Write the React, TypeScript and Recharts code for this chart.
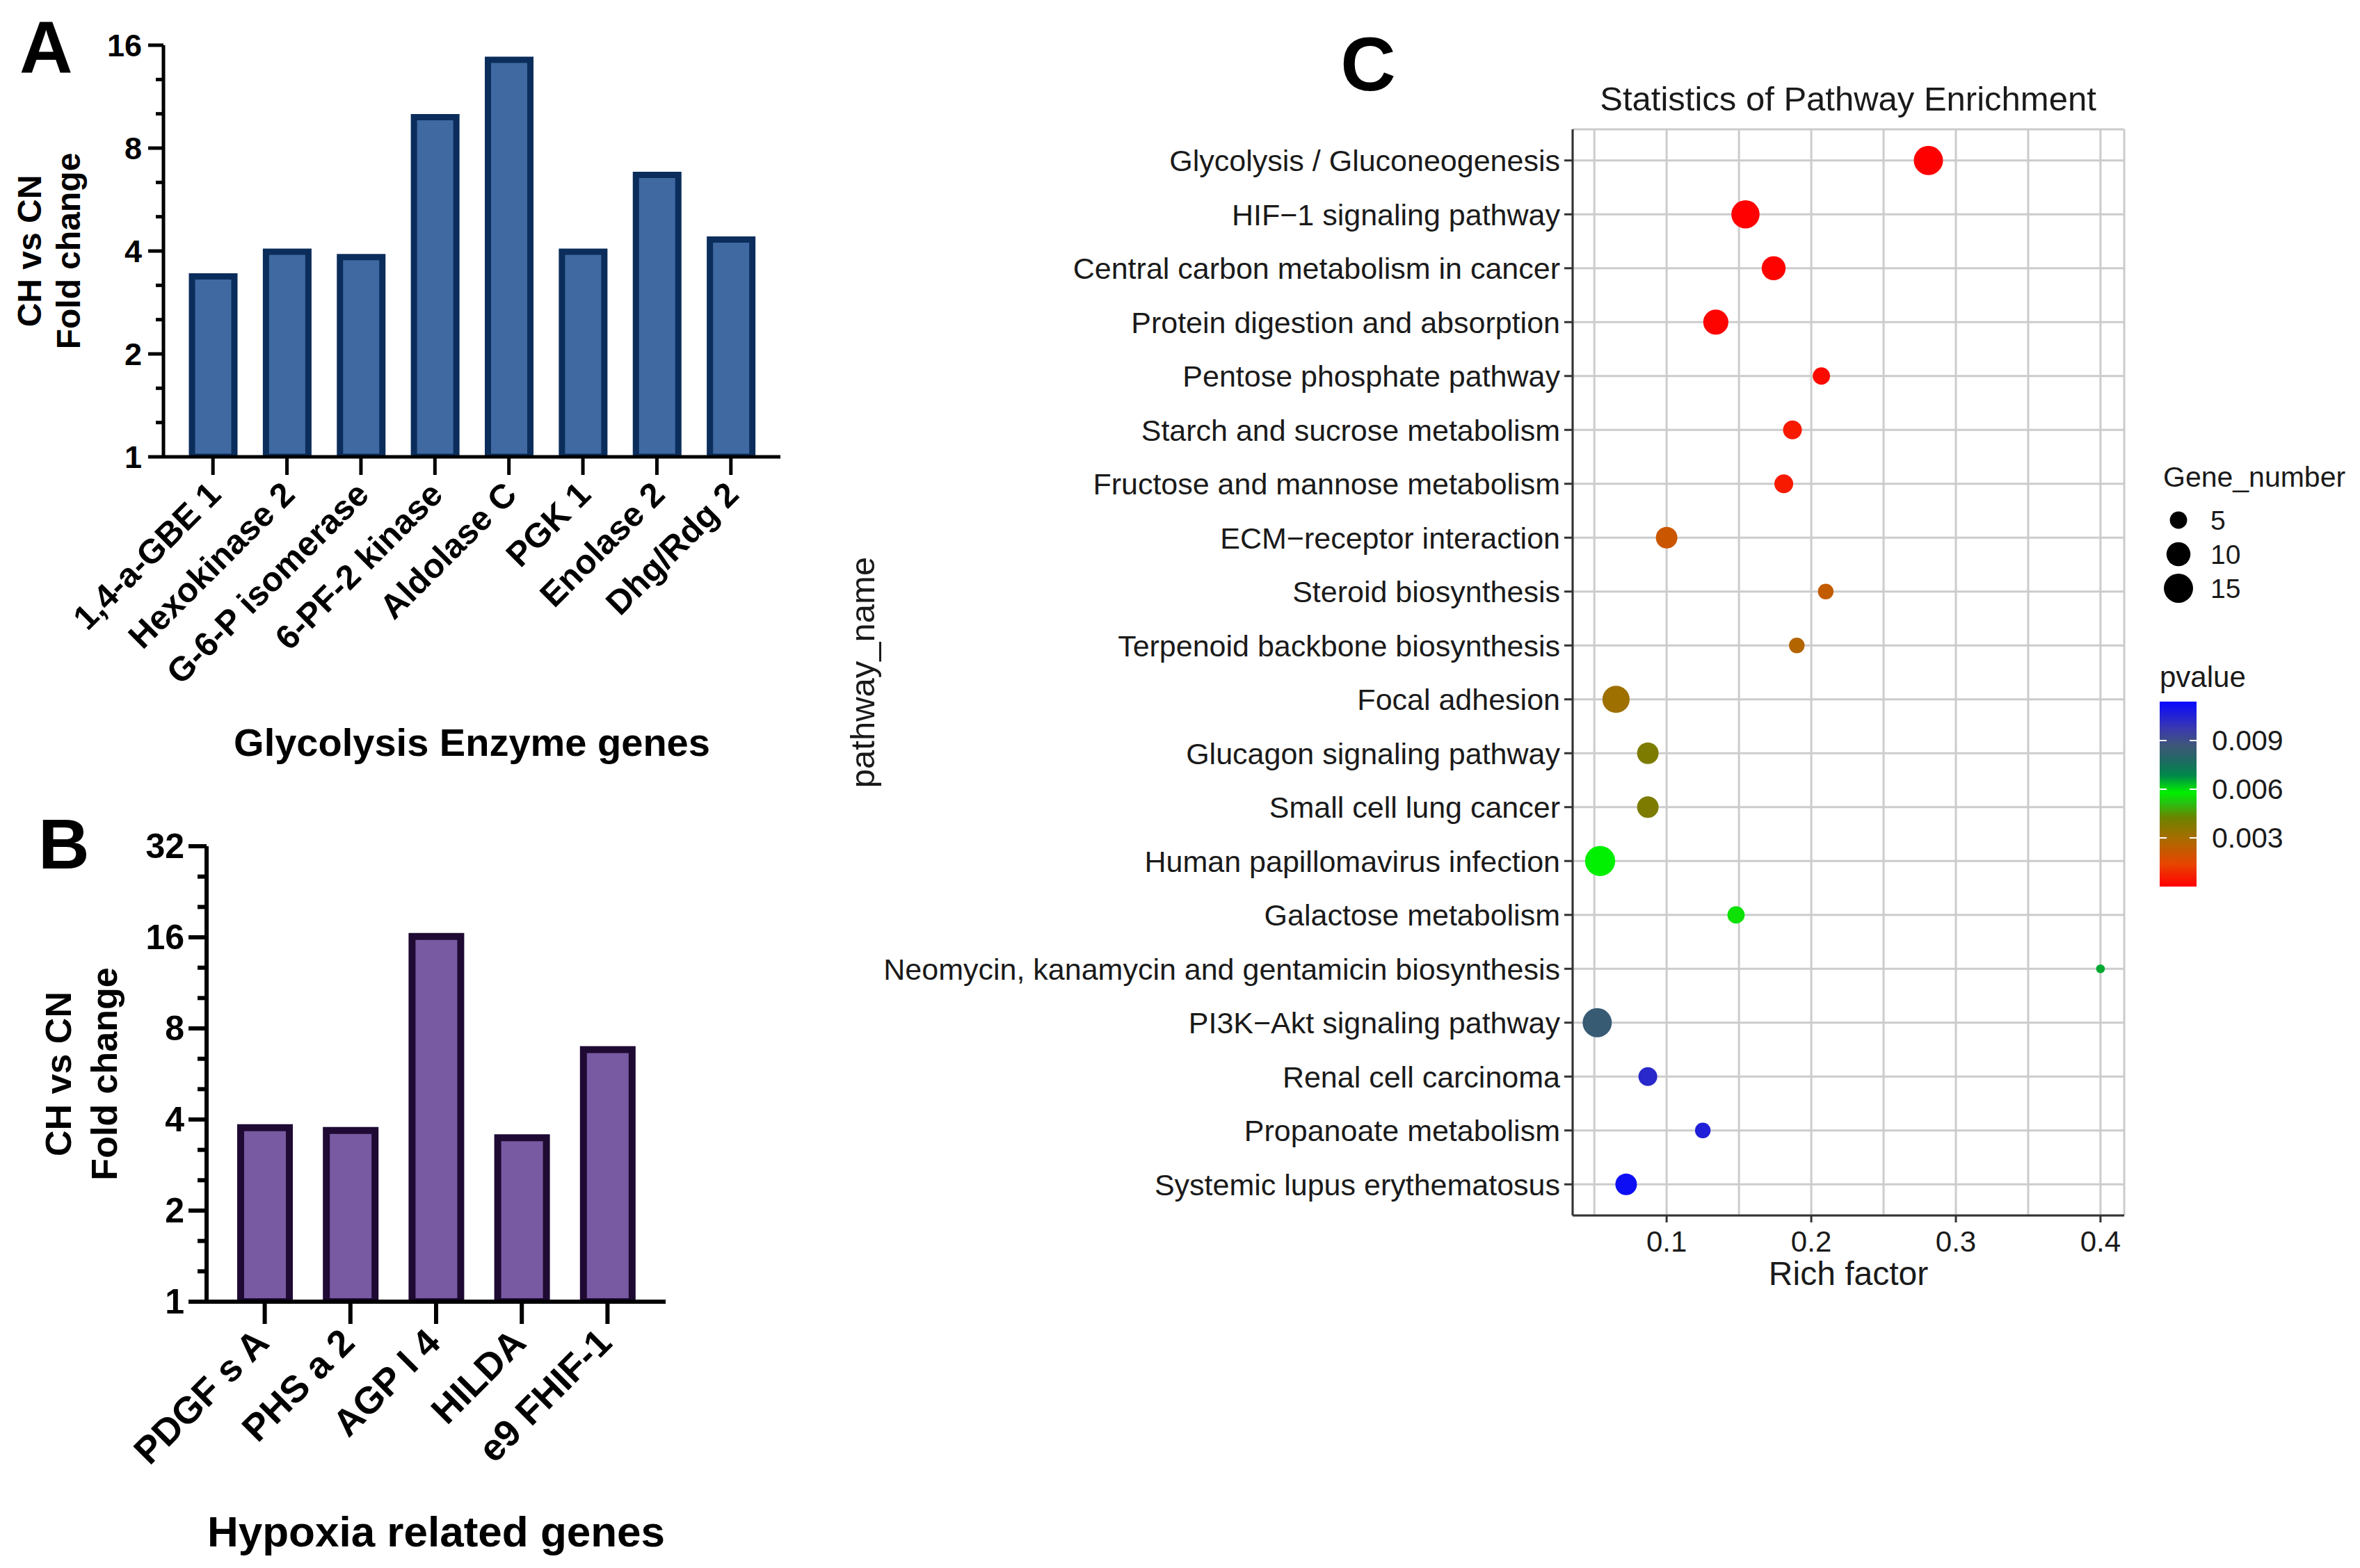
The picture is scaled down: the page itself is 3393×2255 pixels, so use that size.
import React from "react";
import {
  Bar,
  BarChart,
  CartesianGrid,
  Cell,
  Label,
  Scatter,
  ScatterChart,
  XAxis,
  YAxis,
  ZAxis,
} from "recharts";

const FONT = '"Liberation Sans", Arial, Helvetica, sans-serif';

// ---- Panel A: glycolysis enzyme genes (fold change, log2 axis)
const glycolysisGenes = [
  "1,4-a-GBE 1",
  "Hexokinase 2",
  "G-6-P isomerase",
  "6-PF-2 kinase",
  "Aldolase C",
  "PGK 1",
  "Enolase 2",
  "Dhg/Rdg 2",
];
const glycolysisFold = [3.37, 3.98, 3.84, 9.85, 14.5, 3.98, 6.68, 4.32];

// ---- Panel B: hypoxia related genes
const hypoxiaGenes = ["PDGF s A", "PHS a 2", "AGP I 4", "HILDA", "e9 FHIF-1"];
const hypoxiaFold = [3.76, 3.68, 16.1, 3.48, 6.81];

const foldAxisTitle = ["CH vs CN", "Fold change"];

// ---- Panel C: pathway enrichment
const pathways = [
  "Glycolysis / Gluconeogenesis",
  "HIF\u22121 signaling pathway",
  "Central carbon metabolism in cancer",
  "Protein digestion and absorption",
  "Pentose phosphate pathway",
  "Starch and sucrose metabolism",
  "Fructose and mannose metabolism",
  "ECM\u2212receptor interaction",
  "Steroid biosynthesis",
  "Terpenoid backbone biosynthesis",
  "Focal adhesion",
  "Glucagon signaling pathway",
  "Small cell lung cancer",
  "Human papillomavirus infection",
  "Galactose metabolism",
  "Neomycin, kanamycin and gentamicin biosynthesis",
  "PI3K\u2212Akt signaling pathway",
  "Renal cell carcinoma",
  "Propanoate metabolism",
  "Systemic lupus erythematosus",
];
const richFactor = [
  0.281, 0.1545, 0.174, 0.134, 0.207, 0.187, 0.181, 0.1, 0.21, 0.19, 0.065,
  0.087, 0.087, 0.054, 0.148, 0.4, 0.052, 0.087, 0.125, 0.072,
];
const geneNumber = [15, 14, 10, 11, 5, 6, 6, 8, 4, 4, 13, 8, 8, 16, 5, 1, 15, 6, 4, 8];
const pValue = [
  0.00001, 0.00002, 0.00004, 0.00008, 0.0002, 0.0005, 0.0005, 0.0021, 0.0023,
  0.0027, 0.0032, 0.0039, 0.0039, 0.0058, 0.0056, 0.0065, 0.0085, 0.0103,
  0.0106, 0.0112,
];
const richTicks = [0.05, 0.1, 0.15, 0.2, 0.25, 0.3, 0.35, 0.4];
const richLabelled = [0.1, 0.2, 0.3, 0.4];
const sizeLegend = [5, 10, 15];
const pLegendTicks = [0.003, 0.006, 0.009];

const richDomain: [number, number] = [0.035, 0.4164];
const zDomain: [number, number] = [1, 16];
const zRange: [number, number] = [125, 1475];
const pDomain: [number, number] = [0, 0.0114];
const colorStops: [number, string][] = [
  [0, "#FF0000"],
  [0.12, "#E84400"],
  [0.26, "#A86C00"],
  [0.37, "#6E8200"],
  [0.45, "#28C010"],
  [0.51, "#00F000"],
  [0.6, "#00884A"],
  [0.68, "#1E6A62"],
  [0.76, "#3E5878"],
  [0.85, "#3C3AAC"],
  [1, "#0808FF"],
];

const hexToRgb = (h: string) => [1, 3, 5].map((i) => parseInt(h.slice(i, i + 2), 16));

function pColor(p: number) {
  const t = Math.min(1, Math.max(0, (p - pDomain[0]) / (pDomain[1] - pDomain[0])));
  for (let i = 1; i < colorStops.length; i++) {
    const [t0, c0] = colorStops[i - 1];
    const [t1, c1] = colorStops[i];
    if (t <= t1) {
      const f = (t - t0) / (t1 - t0);
      const a = hexToRgb(c0);
      const b = hexToRgb(c1);
      return `rgb(${a.map((v, k) => Math.round(v + (b[k] - v) * f)).join(",")})`;
    }
  }
  return colorStops[colorStops.length - 1][1];
}

const zRadius = (n: number) =>
  Math.sqrt(
    (zRange[0] + ((n - zDomain[0]) / (zDomain[1] - zDomain[0])) * (zRange[1] - zRange[0])) /
      Math.PI
  );

// major ticks at powers of two, two minor ticks in between
const logTicks = (max: number) => {
  const out: number[] = [];
  const top = Math.round(Math.log2(max));
  for (let k = 0; k <= top; k++) {
    out.push(2 ** k);
    if (k < top) out.push(2 ** (k + 1 / 3), 2 ** (k + 2 / 3));
  }
  return out;
};

const LogTick = ({ x, y, payload, s }: any) => {
  const lg = Math.log2(payload.value);
  const major = Math.abs(lg - Math.round(lg)) < 1e-6;
  const len = major ? s.majorLen : s.minorLen;
  return (
    <g>
      <line x1={x - len} x2={x} y1={y} y2={y} stroke="#000" strokeWidth={s.axisW} />
      {major && (
        <text
          x={x - len - s.gap}
          y={y}
          textAnchor="end"
          dominantBaseline="central"
          fontSize={s.yFont}
          fontWeight={700}
          fontFamily={FONT}
        >
          {Math.round(payload.value)}
        </text>
      )}
    </g>
  );
};

const GeneTick = ({ x, y, payload, s }: any) => {
  const ax = x + s.labelDx;
  const ay = y + s.labelDy;
  return (
    <g>
      <line x1={x} x2={x} y1={y} y2={y + s.xLen} stroke="#000" strokeWidth={s.axisW} />
      <text
        x={ax}
        y={ay}
        textAnchor="end"
        transform={`rotate(-45, ${ax}, ${ay})`}
        fontSize={s.xFont}
        fontWeight={700}
        fontFamily={FONT}
      >
        {payload.value}
      </text>
    </g>
  );
};

const RichTick = ({ x, y, payload }: any) => {
  if (!richLabelled.some((v) => Math.abs(v - payload.value) < 1e-9)) return <g />;
  return (
    <g>
      <line x1={x} x2={x} y1={y} y2={y + 10} stroke="#333" strokeWidth={3} />
      <text
        x={x}
        y={y + 22}
        dy="0.72em"
        textAnchor="middle"
        fontSize={42}
        fill="#1a1a1a"
        fontFamily={FONT}
      >
        {payload.value}
      </text>
    </g>
  );
};

function FoldChart({ names, values, maxFold, width, height, margin, yWidth, xHeight, pad, title, s }: any) {
  const data = names.map((name: string, i: number) => ({ name, fold: values[i] }));
  return (
    <BarChart width={width} height={height} data={data} margin={margin}>
      <XAxis
        dataKey="name"
        type="category"
        interval={0}
        height={xHeight}
        padding={{ left: pad, right: pad }}
        tickSize={0}
        tickMargin={0}
        tickLine={false}
        axisLine={{ stroke: "#000", strokeWidth: s.axisW }}
        tick={(p: any) => <GeneTick {...p} s={s} />}
      >
        <Label
          content={({ viewBox }: any) => (
            <text
              x={viewBox.x + viewBox.width / 2}
              y={viewBox.y + s.titleDy}
              textAnchor="middle"
              fontSize={s.titleFont}
              fontWeight={700}
              fontFamily={FONT}
            >
              {title}
            </text>
          )}
        />
      </XAxis>
      <YAxis
        type="number"
        scale="log"
        domain={[1, maxFold]}
        allowDataOverflow
        ticks={logTicks(maxFold)}
        interval={0}
        width={yWidth}
        tickSize={0}
        tickMargin={0}
        tickLine={false}
        axisLine={{ stroke: "#000", strokeWidth: s.axisW }}
        tick={(p: any) => <LogTick {...p} s={s} />}
      >
        <Label
          content={({ viewBox }: any) => {
            const cy = viewBox.y + viewBox.height / 2;
            return (
              <g fontFamily={FONT} fontWeight={700} fontSize={s.yTitleFont}>
                {foldAxisTitle.map((t, i) => (
                  <text
                    key={t}
                    x={s.yTitleX[i]}
                    y={cy}
                    textAnchor="middle"
                    transform={`rotate(-90, ${s.yTitleX[i]}, ${cy})`}
                  >
                    {t}
                  </text>
                ))}
              </g>
            );
          }}
        />
      </YAxis>
      <Bar
        dataKey="fold"
        fill={s.fill}
        stroke={s.stroke}
        strokeWidth={s.barStroke}
        barSize={s.barSize}
        isAnimationActive={false}
      />
    </BarChart>
  );
}

const styleA = {
  fill: "#3F69A0",
  stroke: "#0B2D5B",
  barStroke: 9,
  barSize: 61,
  axisW: 5,
  majorLen: 22,
  minorLen: 11,
  gap: 9,
  yFont: 45,
  xFont: 49,
  xLen: 26,
  labelDx: 14,
  labelDy: 57,
  titleFont: 56,
  titleDy: 430,
  yTitleFont: 48,
  yTitleX: [59, 115],
};

const styleB = {
  fill: "#785AA2",
  stroke: "#1E0A32",
  barStroke: 10,
  barSize: 70,
  axisW: 6,
  majorLen: 26,
  minorLen: 13,
  gap: 6,
  yFont: 50,
  xFont: 54,
  xLen: 32,
  labelDx: 9,
  labelDy: 62,
  titleFont: 62,
  titleDy: 352,
  yTitleFont: 52,
  yTitleX: [102, 168],
};

function EnrichmentChart() {
  const data = pathways.map((name, i) => ({
    name,
    rich: richFactor[i],
    genes: geneNumber[i],
    p: pValue[i],
  }));
  return (
    <ScatterChart width={2000} height={1900} margin={{ top: 186, right: 96, left: 0, bottom: 0 }}>
      <CartesianGrid stroke="#cccccc" strokeWidth={3} />
      <XAxis
        type="number"
        dataKey="rich"
        domain={richDomain}
        allowDataOverflow
        ticks={richTicks}
        interval={0}
        height={152}
        tickSize={0}
        tickMargin={0}
        tickLine={false}
        axisLine={{ stroke: "#333", strokeWidth: 3 }}
        tick={(p: any) => <RichTick {...p} />}
      >
        <Label
          content={({ viewBox }: any) => (
            <text
              x={viewBox.x + viewBox.width / 2}
              y={viewBox.y + 100}
              textAnchor="middle"
              fontSize={48}
              fill="#1a1a1a"
              fontFamily={FONT}
            >
              Rich factor
            </text>
          )}
        />
      </XAxis>
      <XAxis
        xAxisId="top"
        orientation="top"
        type="number"
        domain={richDomain}
        allowDataOverflow
        height={0}
        tick={false}
        tickLine={false}
        axisLine={{ stroke: "#333", strokeWidth: 3 }}
      />
      <YAxis
        type="category"
        dataKey="name"
        reversed
        interval={0}
        width={1111}
        padding={{ top: 6, bottom: 6 }}
        tickSize={12}
        tickMargin={6}
        tickLine={{ stroke: "#333", strokeWidth: 3 }}
        axisLine={{ stroke: "#333", strokeWidth: 3 }}
        tick={{ fontSize: 43, fill: "#1a1a1a", fontFamily: FONT }}
      >
        <Label
          content={({ viewBox }: any) => {
            const cy = viewBox.y + viewBox.height / 2;
            return (
              <text
                x={107}
                y={cy}
                textAnchor="middle"
                transform={`rotate(-90, 107, ${cy})`}
                fontSize={49}
                fill="#1a1a1a"
                fontFamily={FONT}
              >
                pathway_name
              </text>
            );
          }}
        />
      </YAxis>
      <YAxis
        yAxisId="right"
        orientation="right"
        type="number"
        domain={[0, 1]}
        width={0}
        tick={false}
        tickLine={false}
        axisLine={{ stroke: "#333", strokeWidth: 3 }}
      />
      <ZAxis type="number" dataKey="genes" domain={zDomain} range={zRange} />
      <Scatter data={data} isAnimationActive={false}>
        {data.map((d) => (
          <Cell key={d.name} fill={pColor(d.p)} />
        ))}
      </Scatter>
    </ScatterChart>
  );
}

function Overlay() {
  const barX = 3105;
  const barW = 53;
  const barTop = 1009;
  const barBottom = 1275;
  const pY = (p: number) =>
    barBottom - ((p - pDomain[0]) / (pDomain[1] - pDomain[0])) * (barBottom - barTop);
  return (
    <svg
      width={3393}
      height={2255}
      style={{ position: "absolute", left: 0, top: 0, pointerEvents: "none" }}
      fontFamily={FONT}
    >
      <defs>
        <linearGradient id="pgrad" x1="0" y1="1" x2="0" y2="0">
          {colorStops.map(([t, c]) => (
            <stop key={t} offset={t} stopColor={c} />
          ))}
        </linearGradient>
      </defs>
      <text x={28} y={105} fontSize={106} fontWeight={700}>A</text>
      <text x={55} y={1249} fontSize={102} fontWeight={700}>B</text>
      <text x={1967} y={130} fontSize={110} fontWeight={700} textAnchor="middle">C</text>
      <text x={2657} y={159} fontSize={49} textAnchor="middle" fill="#1a1a1a">
        Statistics of Pathway Enrichment
      </text>

      <text x={3110} y={700} fontSize={41} fill="#1a1a1a">Gene_number</text>
      {sizeLegend.map((n, i) => (
        <g key={n}>
          <circle cx={3132} cy={748 + i * 49} r={zRadius(n)} fill="#000" />
          <text x={3178} y={748 + i * 49} dominantBaseline="central" fontSize={39} fill="#1a1a1a">
            {n}
          </text>
        </g>
      ))}

      <text x={3105} y={988} fontSize={42} fill="#1a1a1a">pvalue</text>
      <rect x={barX} y={barTop} width={barW} height={barBottom - barTop} fill="url(#pgrad)" />
      {pLegendTicks.map((p) => (
        <g key={p}>
          <line x1={barX} x2={barX + 10} y1={pY(p)} y2={pY(p)} stroke="#fff" strokeWidth={2} />
          <line x1={barX + barW - 10} x2={barX + barW} y1={pY(p)} y2={pY(p)} stroke="#fff" strokeWidth={2} />
          <text x={3180} y={pY(p)} dominantBaseline="central" fontSize={41} fill="#1a1a1a">
            {p.toFixed(3)}
          </text>
        </g>
      ))}
    </svg>
  );
}

export default function App() {
  return (
    <div
      style={{
        position: "relative",
        width: 3393,
        height: 2255,
        background: "#fff",
        overflow: "hidden",
        fontFamily: FONT,
      }}
    >
      <style>{"body{margin:0}"}</style>
      <div style={{ position: "absolute", left: 0, top: 0 }}>
        <FoldChart
          names={glycolysisGenes}
          values={glycolysisFold}
          maxFold={16}
          width={1200}
          height={1110}
          margin={{ top: 65, right: 78, left: 0, bottom: 0 }}
          yWidth={235}
          xHeight={453}
          pad={18}
          title="Glycolysis Enzyme genes"
          s={styleA}
        />
      </div>
      <div style={{ position: "absolute", left: 0, top: 1150 }}>
        <FoldChart
          names={hypoxiaGenes}
          values={hypoxiaFold}
          maxFold={32}
          width={1000}
          height={1105}
          margin={{ top: 67, right: 43, left: 0, bottom: 0 }}
          yWidth={297}
          xHeight={383}
          pad={22}
          title="Hypoxia related genes"
          s={styleB}
        />
      </div>
      <div style={{ position: "absolute", left: 1150, top: 0 }}>
        <EnrichmentChart />
      </div>
      <Overlay />
    </div>
  );
}
